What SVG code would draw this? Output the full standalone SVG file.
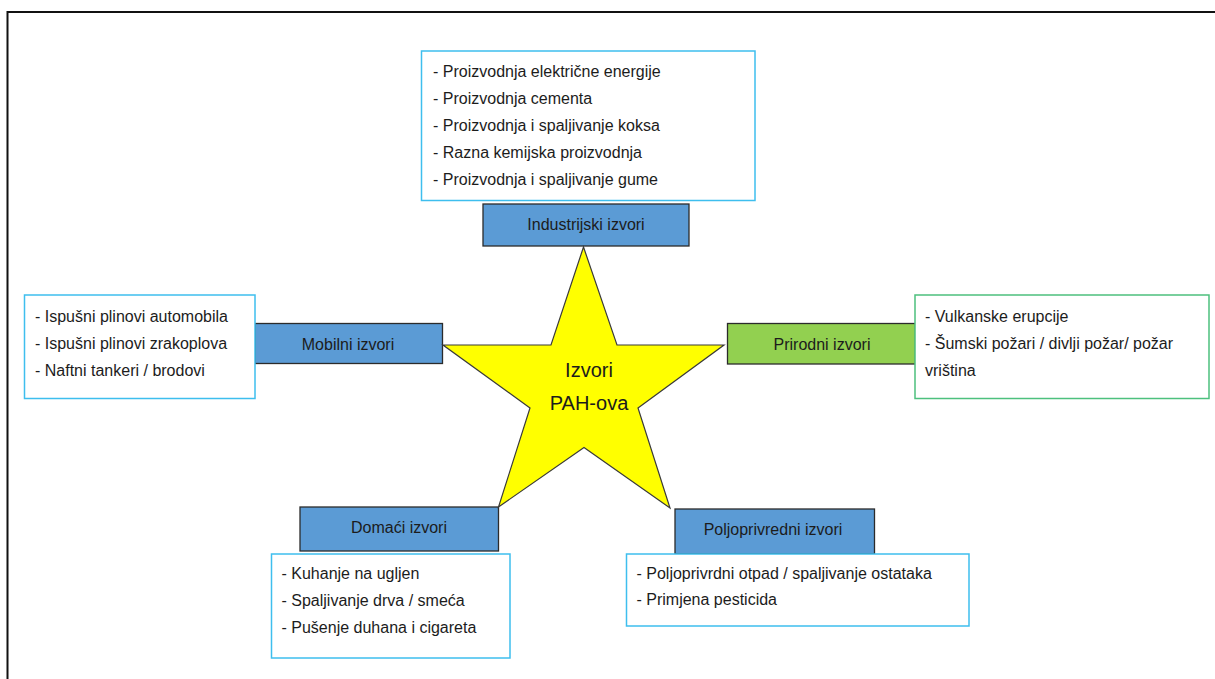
<svg xmlns="http://www.w3.org/2000/svg" width="1215" height="679" viewBox="0 0 1215 679">
<style>
text{font-family:"Liberation Sans",Arial,sans-serif;font-size:16px;fill:#1c1c1c}
.lbl{text-anchor:middle}
.blue{fill:#5B9BD5;stroke:#2b2b2b;stroke-width:1.3}
.green{fill:#92D050;stroke:#2b2b2b;stroke-width:1.3}
.lb{fill:#fff;stroke:#3EBEEE;stroke-width:1.5}
.lg{fill:#fff;stroke:#4DC07E;stroke-width:1.5}
.star{fill:#FFFF00;stroke:#3a3a3a;stroke-width:1.2;stroke-linejoin:miter}
.big{font-size:20px;text-anchor:middle}
</style>
<rect x="0" y="0" width="1215" height="679" fill="#fff"/>
<rect x="7.5" y="12" width="1400" height="900" fill="none" stroke="#111" stroke-width="2"/>
<g id="connectors"/>
<g id="industrial-list">
<rect class="lb" x="421.5" y="51" width="333.5" height="149.5"/>
<text x="433" y="77">- Proizvodnja električne energije</text>
<text x="433" y="104">- Proizvodnja cementa</text>
<text x="433" y="131">- Proizvodnja i spaljivanje koksa</text>
<text x="433" y="158">- Razna kemijska proizvodnja</text>
<text x="433" y="185">- Proizvodnja i spaljivanje gume</text>
</g>
<g id="industrial">
<rect class="blue" x="483" y="204" width="206" height="42"/>
<text class="lbl" x="586" y="229.5">Industrijski izvori</text>
</g>
<g id="mobile">
<rect class="blue" x="255" y="323.5" width="187.5" height="40"/>
<text class="lbl" x="348" y="350">Mobilni izvori</text>
</g>
<g id="mobile-list">
<rect class="lb" x="24.5" y="295" width="230.5" height="103.5"/>
<text x="35" y="322">- Ispušni plinovi automobila</text>
<text x="35" y="349">- Ispušni plinovi zrakoplova</text>
<text x="35" y="376">- Naftni tankeri / brodovi</text>
</g>
<g id="natural">
<rect class="green" x="727.5" y="323.5" width="188" height="40.5"/>
<text class="lbl" x="822" y="350">Prirodni izvori</text>
</g>
<g id="natural-list">
<rect class="lg" x="915" y="295" width="294" height="103.5"/>
<text x="925" y="322">- Vulkanske erupcije</text>
<text x="925" y="349">- Šumski požari / divlji požar/ požar</text>
<text x="925" y="376">vriština</text>
</g>
<g id="domestic">
<rect class="blue" x="300" y="507" width="198.5" height="44"/>
<text class="lbl" x="399" y="533">Domaći izvori</text>
</g>
<g id="domestic-list">
<rect class="lb" x="271.5" y="554" width="238.5" height="104"/>
<text x="281.5" y="579">- Kuhanje na ugljen</text>
<text x="281.5" y="606">- Spaljivanje drva / smeća</text>
<text x="281.5" y="633">- Pušenje duhana i cigareta</text>
</g>
<g id="agricultural">
<rect class="blue" x="675" y="509" width="199.5" height="45"/>
<text class="lbl" x="773" y="535">Poljoprivredni izvori</text>
</g>
<g id="agricultural-list">
<rect class="lb" x="626.5" y="554" width="342.5" height="72"/>
<text x="636.5" y="579">- Poljoprivrdni otpad / spaljivanje ostataka</text>
<text x="636.5" y="605">- Primjena pesticida</text>
</g>
<g id="center-star">
<polygon class="star" points="583.5,247 551,345 443,345 530,408 498.5,507 584,447.5 670,508 638,408 724,345 617,345"/>
<text class="big" x="589" y="377">Izvori</text>
<text class="big" x="589" y="409.5">PAH-ova</text>
</g>
</svg>
